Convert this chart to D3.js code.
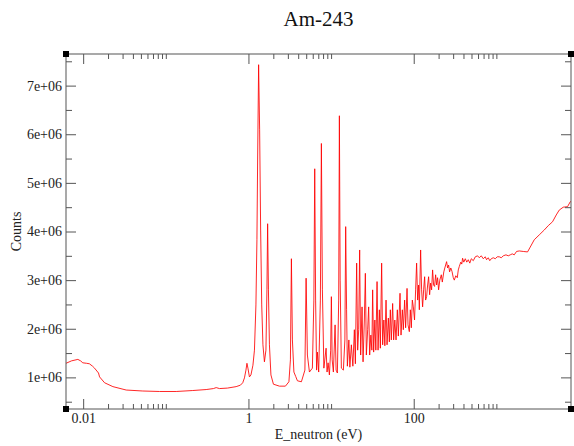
<!DOCTYPE html>
<html>
<head>
<meta charset="utf-8">
<script src="https://cdn.jsdelivr.net/npm/d3@7"></script>
<style>
  body { margin: 0; background: #fff; }
  svg { display: block; }
</style>
</head>
<body>
<svg id="am243-chart" width="574" height="446"></svg>
<script>
// Am-243 neutron energy spectrum
const energies = [
  0.0062, 0.00724, 0.00863, 0.00931, 0.0099, 0.0110, 0.0119, 0.0130, 0.01374, 0.01534,
  0.0158, 0.01815, 0.0229, 0.0332, 0.0527, 0.0839, 0.1336, 0.212, 0.308, 0.377,
  0.407, 0.446, 0.557, 0.71, 0.80, 0.853, 0.895, 0.933, 0.959, 0.986,
  1.028, 1.072, 1.133, 1.182, 1.232, 1.267, 1.292, 1.328, 1.366, 1.405,
  1.448, 1.497, 1.561, 1.628, 1.674, 1.707, 1.745, 1.795, 1.871, 2.006,
  2.371, 2.802, 3.088, 3.220, 3.31, 3.404, 3.548, 3.73, 3.913, 4.374,
  4.822, 4.986, 5.17, 5.47, 5.94, 6.19, 6.34, 6.50, 6.68, 6.83,
  7.08, 7.42, 7.63, 7.85, 8.18, 8.70, 8.94, 9.20, 9.54, 9.89,
  10.08, 10.31, 10.66, 11.18, 11.50, 11.92, 12.36, 12.60, 12.88, 13.32,
  14.08, 14.69, 15.02, 15.40, 15.74, 16.41, 16.88, 17.60, 18.35, 19.13,
  19.67, 20.40, 20.97, 21.57, 22.17, 22.80, 23.70, 24.37, 25.27, 25.98,
  26.72, 27.71, 28.49, 29.30, 30.29, 31.15, 31.84, 32.74, 33.85, 34.81,
  35.99, 37.01, 38.37, 39.46, 40.92, 42.07, 43.50, 44.73, 46.24, 47.55,
  49.31, 50.70, 52.12, 53.59, 55.58, 57.15, 59.09, 61.09, 63.34, 65.12,
  68.27, 70.20, 72.80, 74.85, 77.62, 79.81, 82.99, 85.33, 88.48, 90.97,
  93.54, 96.18, 98.90, 102.3, 105.4, 108.4, 111.5, 114.6, 116.9, 121.2,
  124.6, 128.1, 131.8, 135.5, 139.3, 143.2, 147.3, 151.4, 155.7, 160.1,
  164.6, 169.2, 174.0, 178.9, 184.0, 189.2, 194.5, 200.0, 206.8, 215.6,
  221.7, 231.2, 237.7, 249.9, 257.0, 264.2, 271.7, 280.9, 290.4, 301.1,
  309.7, 322.9, 336.6, 346.1, 355.9, 371.1, 381.6, 390.2, 403.5, 420.7,
  438.6, 457.4, 476.9, 497.3, 525.8, 555.9, 592.5, 621.2, 656.8, 694.4,
  734.2, 761.2, 798.1, 832.2, 867.7, 917.5, 970.0, 1025, 1084, 1146,
  1212, 1307, 1393, 1473, 1557, 1646, 1755, 1892, 2115, 2384,
  2570, 2873, 3302, 3795, 4243, 4783, 5302, 5763, 6442, 7261,
  7829, 8346
];

const counts = [
  1.29e6, 1.34e6, 1.37e6, 1.34e6, 1.30e6, 1.29e6, 1.28e6, 1.23e6, 1.19e6, 1.09e6,
  1.01e6, 0.89e6, 0.81e6, 0.74e6, 0.72e6, 0.71e6, 0.71e6, 0.73e6, 0.75e6, 0.77e6,
  0.79e6, 0.77e6, 0.78e6, 0.81e6, 0.84e6, 0.89e6, 0.99e6, 1.15e6, 1.29e6, 1.19e6,
  1.01e6, 1.05e6, 1.25e6, 1.56e6, 2.49e6, 3.83e6, 5.47e6, 7.43e6, 6.09e6, 4.03e6,
  2.49e6, 1.67e6, 1.32e6, 1.56e6, 2.80e6, 4.16e6, 2.80e6, 1.67e6, 1.05e6, 0.86e6,
  0.82e6, 0.82e6, 0.91e6, 1.36e6, 3.44e6, 1.77e6, 1.11e6, 1.02e6, 0.93e6, 0.91e6,
  1.15e6, 3.04e6, 1.46e6, 1.11e6, 1.19e6, 2.59e6, 5.29e6, 2.59e6, 1.15e6, 1.52e6,
  1.11e6, 2.59e6, 5.81e6, 2.80e6, 1.19e6, 1.60e6, 1.11e6, 1.30e6, 1.05e6, 1.56e6,
  2.66e6, 1.36e6, 1.11e6, 2.08e6, 1.15e6, 1.09e6, 2.59e6, 6.38e6, 3.00e6, 1.19e6,
  1.15e6, 1.77e6, 4.10e6, 2.39e6, 1.23e6, 1.77e6, 1.21e6, 1.67e6, 1.23e6, 1.98e6,
  1.28e6, 3.35e6, 1.56e6, 1.98e6, 3.62e6, 1.46e6, 2.45e6, 1.32e6, 2.18e6, 3.14e6,
  1.46e6, 1.98e6, 2.45e6, 1.46e6, 1.87e6, 1.56e6, 2.80e6, 1.52e6, 2.18e6, 1.56e6,
  2.97e6, 1.56e6, 2.39e6, 1.60e6, 3.35e6, 1.67e6, 2.18e6, 1.65e6, 2.59e6, 1.67e6,
  2.22e6, 1.73e6, 2.39e6, 1.77e6, 2.52e6, 1.77e6, 2.18e6, 1.77e6, 2.39e6, 1.85e6,
  2.73e6, 1.87e6, 2.39e6, 1.98e6, 2.59e6, 2.02e6, 2.83e6, 2.08e6, 1.94e6, 2.39e6,
  2.02e6, 2.59e6, 2.45e6, 2.18e6, 2.80e6, 3.35e6, 2.59e6, 2.90e6, 2.39e6, 3.62e6,
  2.80e6, 2.45e6, 2.80e6, 3.07e6, 2.59e6, 2.66e6, 2.90e6, 3.07e6, 2.70e6, 2.94e6,
  2.80e6, 3.21e6, 2.90e6, 2.87e6, 3.11e6, 2.90e6, 3.05e6, 2.80e6, 3.00e6, 3.11e6,
  2.96e6, 3.17e6, 3.25e6, 3.38e6, 3.25e6, 3.31e6, 3.17e6, 3.25e6, 3.18e6, 3.05e6,
  3.00e6, 3.09e6, 3.05e6, 3.21e6, 3.28e6, 3.37e6, 3.33e6, 3.45e6, 3.37e6, 3.44e6,
  3.37e6, 3.42e6, 3.35e6, 3.44e6, 3.40e6, 3.48e6, 3.50e6, 3.46e6, 3.50e6, 3.44e6,
  3.48e6, 3.42e6, 3.46e6, 3.40e6, 3.44e6, 3.46e6, 3.44e6, 3.48e6, 3.48e6, 3.46e6,
  3.50e6, 3.52e6, 3.50e6, 3.52e6, 3.54e6, 3.52e6, 3.59e6, 3.60e6, 3.59e6, 3.58e6,
  3.68e6, 3.83e6, 3.93e6, 4.03e6, 4.12e6, 4.20e6, 4.34e6, 4.44e6, 4.50e6, 4.51e6,
  4.61e6, 4.65e6
];

const xTickValues = [0.01, 1, 100];
const xTickLabels = ["0.01", "1", "100"];
const yTickValues = [1e6, 2e6, 3e6, 4e6, 5e6, 6e6, 7e6];
const yTickLabels = ["1e+06", "2e+06", "3e+06", "4e+06", "5e+06", "6e+06", "7e+06"];
const yMinorValues = [0.5e6, 1.5e6, 2.5e6, 3.5e6, 4.5e6, 5.5e6, 6.5e6, 7.5e6];

const width = 574;
const height = 446;
const margin = { top: 54, right: 3, bottom: 37, left: 66 };
const chartWidth = width - margin.left - margin.right;
const chartHeight = height - margin.top - margin.bottom;
const font = "'Liberation Serif', 'Times New Roman', serif";

const data = energies.map((e, i) => ({ E: e, C: counts[i] }));

const svg = d3.select('#am243-chart');
const g = svg.append('g')
    .attr('transform', `translate(${margin.left}, ${margin.top})`);

const xScale = d3.scaleLog()
    .domain([0.0062, 8000])
    .range([0, chartWidth]);

const yScale = d3.scaleLinear()
    .domain([0.35e6, 7.65e6])
    .range([chartHeight, 0]);

// minor log ticks: 2..10 times each labelled decade pair
const xMinorValues = [];
xTickValues.forEach(m => {
    for (let k = 2; k <= 10; k++) {
        const v = m * k;
        if (v > xScale.domain()[0] && v < xScale.domain()[1]) xMinorValues.push(v);
    }
});

g.append('clipPath').attr('id', 'plot-clip')
    .append('rect').attr('width', chartWidth).attr('height', chartHeight);

// the spectrum
const line = d3.line()
    .x(d => xScale(d.E))
    .y(d => yScale(d.C));

g.append('path')
    .datum(data)
    .attr('clip-path', 'url(#plot-clip)')
    .attr('fill', 'none')
    .attr('stroke', '#ff0000')
    .attr('stroke-width', 0.85)
    .attr('stroke-linejoin', 'round')
    .attr('d', line);

// ticks pointing inward on all four sides
function tickAxis(axis, transform) {
    const a = g.append('g')
        .attr('transform', transform)
        .call(axis)
        .attr('color', '#555')
        .attr('font-family', font)
        .attr('font-size', 14);
    a.select('.domain').remove();
    a.selectAll('text').attr('fill', '#222');
    return a;
}

tickAxis(d3.axisBottom(xScale).tickValues(xTickValues).tickSize(-10).tickPadding(4)
    .tickFormat((d, i) => xTickLabels[i]), `translate(0, ${chartHeight})`);
tickAxis(d3.axisBottom(xScale).tickValues(xMinorValues).tickSize(-5).tickFormat(''),
    `translate(0, ${chartHeight})`);
tickAxis(d3.axisTop(xScale).tickValues(xTickValues).tickSize(-10).tickFormat(''), 'translate(0, 0)');
tickAxis(d3.axisTop(xScale).tickValues(xMinorValues).tickSize(-5).tickFormat(''), 'translate(0, 0)');

tickAxis(d3.axisLeft(yScale).tickValues(yTickValues).tickSize(-10).tickPadding(4)
    .tickFormat((d, i) => yTickLabels[i]), 'translate(0, 0)');
tickAxis(d3.axisLeft(yScale).tickValues(yMinorValues).tickSize(-6).tickFormat(''), 'translate(0, 0)');
tickAxis(d3.axisRight(yScale).tickValues(yTickValues).tickSize(-10).tickFormat(''),
    `translate(${chartWidth}, 0)`);
tickAxis(d3.axisRight(yScale).tickValues(yMinorValues).tickSize(-6).tickFormat(''),
    `translate(${chartWidth}, 0)`);

// frame
g.append('rect')
    .attr('width', chartWidth)
    .attr('height', chartHeight)
    .attr('fill', 'none')
    .attr('stroke', '#555')
    .attr('stroke-width', 1);

// corner handles
[[0, 0], [chartWidth, 0], [0, chartHeight], [chartWidth, chartHeight]].forEach(([cx, cy]) => {
    g.append('rect')
        .attr('x', cx - 3)
        .attr('y', cy - 3)
        .attr('width', 6)
        .attr('height', 6)
        .attr('fill', '#000');
});

// title
svg.append('text')
    .attr('x', margin.left + chartWidth / 2)
    .attr('y', 26)
    .attr('text-anchor', 'middle')
    .attr('font-family', font)
    .attr('font-size', 21)
    .attr('fill', '#111')
    .text('Am-243');

// x-axis label
svg.append('text')
    .attr('x', margin.left + chartWidth / 2)
    .attr('y', 439)
    .attr('text-anchor', 'middle')
    .attr('font-family', font)
    .attr('font-size', 14)
    .attr('fill', '#222')
    .text('E_neutron (eV)');

// y-axis label
svg.append('text')
    .attr('transform', 'rotate(-90)')
    .attr('x', -(margin.top + chartHeight / 2))
    .attr('y', 21)
    .attr('text-anchor', 'middle')
    .attr('font-family', font)
    .attr('font-size', 14)
    .attr('fill', '#222')
    .text('Counts');
</script>
</body>
</html>
